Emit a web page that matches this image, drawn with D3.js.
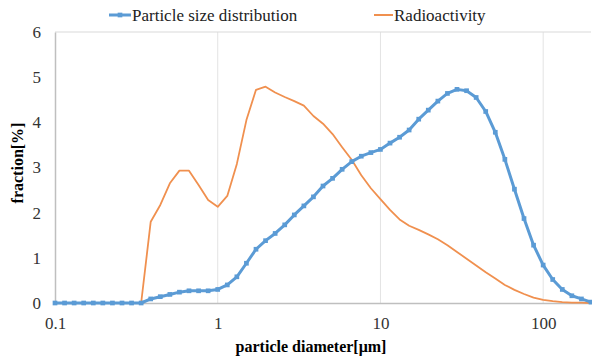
<!DOCTYPE html>
<html lang="en">
<head>
<meta charset="UTF-8">
<title>Particle size distribution</title>
<script src="https://cdn.jsdelivr.net/npm/d3@7"></script>
<style>
  body { margin: 0; background: #fff; }
  svg text { font-family: "Liberation Serif", "DejaVu Serif", serif !important; }
</style>
</head>
<body>
<div id="chart"></div>
<script>
// particle diameters [µm] (17 size classes per decade)
const diameters = [
  0.1, 0.1145, 0.1311, 0.1501, 0.1719, 0.1968, 0.2254, 0.2581, 0.2955, 0.3384,
  0.3875, 0.4437, 0.5080, 0.5817, 0.6661, 0.7627, 0.8733,
  1, 1.145, 1.311, 1.501, 1.719, 1.968, 2.254, 2.581, 2.955, 3.384,
  3.875, 4.437, 5.080, 5.817, 6.661, 7.627, 8.733,
  10, 11.45, 13.11, 15.01, 17.19, 19.68, 22.54, 25.81, 29.55, 33.84,
  38.75, 44.37, 50.80, 58.17, 66.61, 76.27, 87.33,
  100, 114.5, 131.1, 150.1, 171.9, 196.8
];

// fraction [%]
const sizeDistribution = [
  0, 0, 0, 0, 0, 0, 0, 0, 0, 0,
  0.09, 0.14, 0.19, 0.24, 0.27, 0.27, 0.27,
  0.30, 0.40, 0.58, 0.88, 1.19, 1.38, 1.54, 1.73, 1.95, 2.15,
  2.35, 2.59, 2.76, 2.96, 3.13, 3.25, 3.33,
  3.40, 3.54, 3.67, 3.83, 4.07, 4.27, 4.47, 4.64, 4.73, 4.70,
  4.55, 4.24, 3.78, 3.18, 2.52, 1.87, 1.28,
  0.84, 0.52, 0.30, 0.16, 0.09, 0.02
];

const radioactivity = [
  0, 0, 0, 0, 0, 0, 0, 0, 0, 0,
  1.80, 2.17, 2.65, 2.93, 2.93, 2.61, 2.28,
  2.13, 2.37, 3.08, 4.05, 4.72, 4.79, 4.66, 4.56, 4.47, 4.37,
  4.14, 3.97, 3.74, 3.45, 3.17, 2.83, 2.54,
  2.30, 2.06, 1.85, 1.71, 1.62, 1.52, 1.41, 1.28, 1.13, 0.98,
  0.83, 0.68, 0.54, 0.40, 0.29, 0.20, 0.12,
  0.07, 0.04, 0.02, 0.01, 0.01, 0
];

const xTicks = [0.1, 1, 10, 100];
const yTicks = [0, 1, 2, 3, 4, 5, 6];

const width = 592, height = 362;
const marginTop = 32, marginRight = 1, marginBottom = 59, marginLeft = 55;
const serif = "'Liberation Serif', 'DejaVu Serif', serif";

const x = d3.scaleLog()
  .domain([0.1, 196.8])
  .range([marginLeft, width - marginRight]);

const y = d3.scaleLinear()
  .domain([0, 6])
  .range([height - marginBottom, marginTop]);

const svg = d3.select("#chart").append("svg")
  .attr("width", width)
  .attr("height", height)
  .attr("viewBox", [0, 0, width, height])
  .style("font-family", serif);

// vertical gridlines
svg.append("g")
  .attr("stroke", "#e3e3e3")
  .selectAll("line")
  .data(xTicks.slice(1))
  .join("line")
    .attr("x1", d => x(d)).attr("x2", d => x(d))
    .attr("y1", y(6)).attr("y2", y(0));

// top gridline
svg.append("line")
  .attr("x1", x(0.1)).attr("x2", width - marginRight)
  .attr("y1", y(6)).attr("y2", y(6))
  .attr("stroke", "#d9d9d9");

// y axis
svg.append("g")
  .attr("transform", `translate(${marginLeft},0)`)
  .call(d3.axisLeft(y).tickValues(yTicks).tickSize(0).tickPadding(14).tickFormat(d3.format("d")))
  .attr("font-family", null)
  .call(g => g.select(".domain").attr("stroke", "#bfbfbf").attr("stroke-width", 1.5))
  .call(g => g.selectAll("text").attr("font-size", 17).attr("fill", "#333")
    .style("font-family", serif));

// x axis
svg.append("g")
  .attr("transform", `translate(0,${y(0)})`)
  .call(d3.axisBottom(x).tickValues(xTicks).tickSize(0).tickPadding(14).tickFormat(d => d))
  .attr("font-family", null)
  .call(g => g.select(".domain").attr("stroke", "#bfbfbf").attr("stroke-width", 1.5))
  .call(g => g.selectAll("text").attr("font-size", 17).attr("fill", "#333")
    .style("font-family", serif));

// axis titles
svg.append("text")
  .attr("x", 311).attr("y", 352)
  .attr("text-anchor", "middle")
  .attr("font-size", 16).attr("font-weight", "bold")
  .style("font-family", serif)
  .text("particle diameter[μm]");

svg.append("text")
  .attr("transform", `translate(23,163) rotate(-90)`)
  .attr("text-anchor", "middle")
  .attr("font-size", 16).attr("font-weight", "bold")
  .style("font-family", serif)
  .text("fraction[%]");

const pts = (vals) => diameters.map((d, i) => [d, vals[i]]);
const line = d3.line().x(d => x(d[0])).y(d => y(d[1]));

// radioactivity
svg.append("path")
  .attr("d", line(pts(radioactivity)))
  .attr("fill", "none")
  .attr("stroke", "#F0904F")
  .attr("stroke-width", 1.8)
  .attr("stroke-linejoin", "round");

// particle size distribution
svg.append("path")
  .attr("d", line(pts(sizeDistribution)))
  .attr("fill", "none")
  .attr("stroke", "#5B9BD5")
  .attr("stroke-width", 3)
  .attr("stroke-linejoin", "round");

svg.append("g")
  .attr("fill", "#5B9BD5")
  .selectAll("path")
  .data(pts(sizeDistribution))
  .join("path")
    .attr("transform", d => `translate(${x(d[0])},${y(d[1])})`)
    .attr("d", d3.symbol(d3.symbolSquare, 22));

// legend
const legend = svg.append("g").attr("font-size", 17);
legend.append("line")
  .attr("x1", 109).attr("x2", 131).attr("y1", 15).attr("y2", 15)
  .attr("stroke", "#5B9BD5").attr("stroke-width", 3);
legend.append("path")
  .attr("transform", "translate(120,15)")
  .attr("fill", "#5B9BD5")
  .attr("d", d3.symbol(d3.symbolSquare, 22));
legend.append("text")
  .attr("x", 132).attr("y", 20.5)
  .attr("fill", "#222")
  .style("font-family", serif)
  .text("Particle size distribution");
legend.append("line")
  .attr("x1", 374).attr("x2", 393).attr("y1", 15).attr("y2", 15)
  .attr("stroke", "#F0904F").attr("stroke-width", 2);
legend.append("text")
  .attr("x", 394).attr("y", 20.5)
  .attr("fill", "#222")
  .style("font-family", serif)
  .text("Radioactivity");
</script>
</body>
</html>
